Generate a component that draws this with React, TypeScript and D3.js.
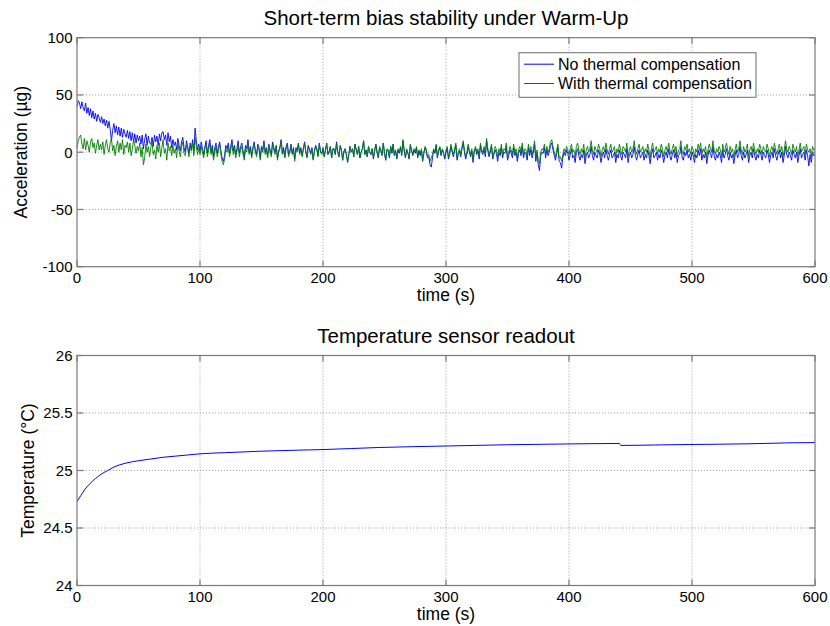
import React from "react";
import * as d3 from "d3";

// ---------- data ----------
const xTicks = [0, 100, 200, 300, 400, 500, 600];
const accTicks = [-100, -50, 0, 50, 100];
const tempTicks = [24, 24.5, 25, 25.5, 26];
const sampleStep = 1; // seconds between acceleration samples

const noCompValues = [
  40, 45, 43, 38, 44, 39, 36, 43, 34, 39, 32, 38, 30, 36, 29, 34, 27, 33, 30, 26,
  31, 25, 29, 23, 28, 21, 27, 20, 10, 19, 25, 17, 23, 15, 22, 14, 21, 13, 20, 16,
  13, 19, 12, 18, 10, 17, 9, 16, 8, 15, 10, 14, 7, 15, 3, 11, 16, 6, 14, 8,
  7, 13, 5, 15, 9, 14, 6, 16, 10, 17, 18, 11, 15, 6, 17, 9, 14, 4, 11, 6,
  9, 2, 12, 6, 1, 9, 13, 4, 0, 10, 5, -1, 8, 3, 11, 1, 21, 10, 2, 7,
  1, 9, 3, -2, 5, 10, -1, 6, 11, 0, 6, -4, 4, 8, -1, 5, 9, 1, -5, -8,
  -3, 6, 3, 8, -1, 5, 11, 1, 6, -2, 3, 10, -1, 5, 8, 1, -4, 6, 3, 11,
  0, 5, -3, 4, 9, 2, -2, 7, 4, -5, 5, 2, 10, 0, 4, -3, 7, 2, -2, 9,
  4, 0, 6, -5, 1, 5, 11, -1, 4, -4, 5, 8, -2, 1, 7, -1, 4, -6, 4, 2,
  8, -1, 4, -3, 3, 9, 1, -4, 6, 3, -1, 4, -6, 1, 6, 3, -3, 8, 1, -1,
  4, -4, 2, 8, -2, 1, 5, -5, 3, 3, -2, 9, 0, -4, 6, 2, -7, 1, 3, -2,
  -9, -2, 5, 0, 3, -4, 7, 2, -2, 5, -5, 0, 3, 10, -2, 2, -4, 5, 0, -2,
  3, -6, 1, 7, -1, -5, 4, 2, -3, 8, -1, -7, 2, 2, -5, 5, -1, 7, -3, 1,
  -6, 2, -1, 4, -3, 10, 1, -5, 2, -1, -6, 6, 1, -3, 2, -1, 4, -5, 1, -3,
  2, -8, -1, 4, 1, -5, -4, -11, -13, -5, 2, -1, 6, -5, 1, 4, -3, 2, -1, -6,
  0, 3, -6, -2, 5, 0, -4, 1, 6, -7, -2, 1, -4, 3, 8, 0, -6, -2, 5, 0,
  -4, 1, -9, 0, 3, -2, 1, -6, 6, 0, -2, 3, -4, 10, 1, -4, 0, 5, -6, -2,
  2, -1, -8, 0, -3, 4, -5, 0, -1, 5, -7, -3, 2, -1, -5, 4, -3, 0, -8, -1,
  2, -3, 5, -5, 0, -1, -7, 4, -3, 2, -5, 0, 7, -8, -1, -11, -16, -3, 0, -1,
  4, -5, 2, -3, 0, 6, 8, 2, -3, -7, -1, 4, -8, -9, -14, -5, 0, -3, 2, -1,
  -7, -2, 3, -5, -3, -9, 0, 3, -3, -7, -2, -5, 2, -10, -3, 0, -5, -2, 5, -3,
  -7, 0, -3, -5, 2, -2, -9, -3, 0, -5, 3, -3, -7, -2, 2, -5, -3, 0, -9, -2,
  -5, 2, -3, -7, 0, -2, -5, 3, -9, -3, 0, -5, -2, 5, -3, -7, -2, 2, -5, -3,
  0, -7, -2, -5, 2, -3, -10, -2, 3, -5, -3, 0, -7, -2, -5, 2, -2, -9, -3, 0,
  -5, 3, -3, -7, -2, 2, -5, 0, -9, -3, -2, 5, -5, -7, 0, -3, 2, -5, -2, -7,
  0, -3, -9, -2, -5, 2, -3, 3, -7, -2, -5, 0, -10, -3, 2, -2, -5, 5, -3, -7,
  -2, -5, 0, -3, -9, 2, -5, -2, 3, -3, -7, 0, -5, -2, -10, -3, 2, -5, -2, 5,
  -3, -7, 0, -5, -2, 2, -9, -3, 0, -5, 3, -3, -7, -2, -5, 2, -2, -7, 0, -3,
  -5, 2, -2, -9, -3, 0, -5, 3, -3, -7, -2, 2, -5, 0, -9, -3, 5, -2, -5, 0,
  -3, -7, 2, -2, -5, 0, -9, -3, 3, -5, -2, 0, -7, 2, -3, -12, -2, -9, 0, -3,
  -2,
];

const withCompValues = [
  4, 10, 13, 15, 7, 3, 12, 2, 10, 6, 0, 9, 12, 4, 8, -1, 6, 11, 2, 7,
  2, 9, -2, 6, 11, 3, 0, 8, 12, 1, 6, -3, 5, 10, 0, 8, 2, 11, -2, 6,
  4, 9, 0, 8, -3, 3, 11, 6, -1, 5, 1, 8, -4, 4, -11, -5, 7, 0, 5, -4,
  4, 9, -2, 2, -6, 6, 0, 8, -4, 4, 11, -1, 3, -7, 8, 1, 5, -3, 6, -1,
  3, -5, 8, 1, -4, 5, 9, -1, -3, 6, 3, -4, 5, 1, 8, -3, 13, 5, -2, 3,
  -2, 5, 0, -5, 3, 7, -4, 2, 8, -2, 3, -7, 0, 5, -4, 2, 7, -2, -8, -11,
  -6, 3, 0, 5, -4, 2, 8, -2, 3, -5, 0, 7, -4, 2, 5, -2, -7, 3, 0, 8,
  -2, 3, -5, 2, 7, 0, -4, 5, 2, -7, 3, 0, 8, -2, 2, -5, 5, 0, -4, 7,
  2, -2, 5, -7, 0, 3, 10, -2, 2, -5, 3, 7, -4, 0, 5, -2, 2, -8, 3, 0,
  7, -2, 3, -4, 2, 8, 0, -5, 5, 2, -2, 3, -7, 0, 5, 2, -4, 7, 0, -2,
  3, -4, 2, 7, -2, 0, 5, -5, 2, 3, -2, 8, 0, -4, 5, 2, -7, 0, 3, -2,
  -8, -2, 5, 0, 3, -4, 7, 2, -2, 5, -5, 0, 3, 10, -2, 2, -4, 5, 0, -2,
  3, -5, 2, 7, 0, -4, 5, 2, -2, 8, 0, -7, 3, 2, -4, 5, 0, 7, -2, 2,
  -5, 3, 0, 5, -2, 11, 2, -4, 3, 0, -5, 7, 2, -2, 3, 0, 5, -4, 2, -2,
  3, -7, 0, 5, 2, -4, -2, -8, -5, -2, 3, 0, 7, -4, 2, 5, -2, 3, 0, -5,
  2, 5, -4, 0, 7, 2, -2, 3, 8, -5, 0, 3, -2, 5, 10, 2, -4, 0, 7, 2,
  -2, 3, -7, 2, 5, 0, 3, -4, 8, 2, 0, 5, -2, 12, 3, -2, 2, 7, -4, 0,
  5, 2, -5, 3, 0, 7, -2, 3, 2, 8, -4, 0, 5, 2, -2, 7, 0, 3, -5, 2,
  5, 0, 8, -2, 3, 2, -4, 7, 0, 5, -2, 3, 10, -5, 2, -7, -10, 0, 3, 2,
  7, -2, 5, 0, 3, 9, 11, 5, 0, -4, 2, 7, -5, -4, -8, -2, 3, 0, 5, 2,
  -2, 3, 7, 0, 2, -4, 5, 8, 2, -2, 3, 0, 7, -5, 2, 5, 0, 3, 10, 2,
  -2, 5, 2, 0, 7, 3, -4, 2, 5, 0, 8, 2, -2, 3, 7, 0, 2, 5, -4, 3,
  0, 7, 2, -2, 5, 3, 0, 8, -4, 2, 5, 0, 3, 10, 2, -2, 3, 7, 0, 2,
  5, -2, 3, 0, 7, 2, -5, 3, 8, 0, 2, 5, -2, 3, 0, 7, 3, -4, 2, 5,
  0, 8, 2, -2, 3, 7, 0, 5, -4, 2, 3, 10, 0, -2, 5, 2, 7, 0, 3, -2,
  5, 2, -4, 3, 0, 7, 2, 8, -2, 3, 0, 5, -5, 2, 7, 3, 0, 10, 2, -2,
  3, 0, 5, 2, -4, 7, 0, 3, 8, 2, -2, 5, 0, 3, -5, 2, 7, 0, 3, 10,
  2, -2, 5, 0, 3, 7, -4, 2, 5, 0, 8, 2, -2, 3, 0, 7, 3, -2, 5, 2,
  0, 7, 3, -4, 2, 5, 0, 8, 2, -2, 3, 7, 0, 5, -4, 2, 10, 3, 0, 5,
  2, -2, 7, 3, 0, 5, -4, 2, 8, 0, 3, 5, -2, 7, 2, 0, 3, -4, 5, 2,
  3,
];

const tempTime = [0, 3, 6, 10, 15, 20, 25, 30, 35, 40, 50, 60, 70, 80, 90, 100, 120, 150, 180, 200, 245, 300, 350, 392, 441, 442, 470, 498, 545, 577, 600];
const tempValue = [24.73, 24.78, 24.83, 24.88, 24.93, 24.97, 25.0, 25.03, 25.05, 25.065, 25.085, 25.1, 25.115, 25.125, 25.135, 25.145, 25.155, 25.168, 25.177, 25.182, 25.2, 25.213, 25.224, 25.23, 25.235, 25.218, 25.222, 25.226, 25.232, 25.24, 25.243];

const seriesNames = ["No thermal compensation", "With thermal compensation"];
const seriesColors = ["#0000ff", "#008000"];

// ---------- layout ----------
const W = 830;
const H = 626;
const left = 77;
const right = 815;
const FONT = "'Liberation Sans', Arial, Helvetica, sans-serif";
const AXIS = "#7a7a7a";
const GRID = "#9a9a9a";
const TICK_LEN = 6;

type PanelProps = {
  y: d3.ScaleLinear<number, number>;
  yTicks: number[];
  fmt: (v: number) => string;
  title: string;
  ylabel: string;
  ylabelX: number;
};

const x = d3.scaleLinear().domain([0, 600]).range([left, right]);

function Panel({ y, yTicks, fmt, title, ylabel, ylabelX }: PanelProps) {
  const [bottom, top] = y.range();
  const mid = (top + bottom) / 2;
  return (
    <g>
      {xTicks.slice(1, -1).map((t) => (
        <line key={"gx" + t} x1={x(t)} x2={x(t)} y1={top} y2={bottom} stroke={GRID} strokeDasharray="1,2" strokeWidth={1} />
      ))}
      {yTicks.slice(1, -1).map((t) => (
        <line key={"gy" + t} x1={left} x2={right} y1={y(t)} y2={y(t)} stroke={GRID} strokeDasharray="1,2" strokeWidth={1} />
      ))}
      <text x={(left + right) / 2} y={top - 12.5} textAnchor="middle" fontSize={20.5} fontFamily={FONT} fill="#000">
        {title}
      </text>
      <text x={(left + right) / 2} y={bottom + 34.5} textAnchor="middle" fontSize={17.5} fontFamily={FONT} fill="#000">
        time (s)
      </text>
      <text
        transform={`translate(${ylabelX},${mid}) rotate(-90)`}
        textAnchor="middle"
        fontSize={17.5}
        fontFamily={FONT}
        fill="#000"
      >
        {ylabel}
      </text>
      {xTicks.map((t) => (
        <text key={"xl" + t} x={x(t)} y={bottom + 16.5} textAnchor="middle" fontSize={15} fontFamily={FONT} fill="#000">
          {t}
        </text>
      ))}
      {yTicks.map((t) => (
        <text key={"yl" + t} x={left - 4.5} y={y(t) + 5.3} textAnchor="end" fontSize={15} fontFamily={FONT} fill="#000">
          {fmt(t)}
        </text>
      ))}
    </g>
  );
}

function Frame({ y, yTicks }: { y: d3.ScaleLinear<number, number>; yTicks: number[] }) {
  const [bottom, top] = y.range();
  return (
    <g stroke={AXIS} strokeWidth={1.2} fill="none">
      <rect x={left} y={top} width={right - left} height={bottom - top} />
      {xTicks.map((t) => (
        <g key={"tx" + t}>
          <line x1={x(t)} x2={x(t)} y1={bottom} y2={bottom - TICK_LEN} />
          <line x1={x(t)} x2={x(t)} y1={top} y2={top + TICK_LEN} />
        </g>
      ))}
      {yTicks.map((t) => (
        <g key={"ty" + t}>
          <line x1={left} x2={left + TICK_LEN} y1={y(t)} y2={y(t)} />
          <line x1={right} x2={right - TICK_LEN} y1={y(t)} y2={y(t)} />
        </g>
      ))}
    </g>
  );
}

export default function App() {
  const yAcc = d3.scaleLinear().domain([-100, 100]).range([266.7, 37.7]);
  const yTemp = d3.scaleLinear().domain([24, 26]).range([585.5, 355.5]);

  const accLine = d3
    .line<number>()
    .x((_, i) => x(i * sampleStep))
    .y((v) => yAcc(v));

  const tempLine = d3
    .line<number>()
    .x((_, i) => x(tempTime[i]))
    .y((v) => yTemp(v))
    .curve(d3.curveMonotoneX);

  const legX = 519;
  const legY = 52.7;
  const legW = 237;
  const legH = 44.6;

  return (
    <svg
      width={W}
      height={H}
      viewBox={`0 0 ${W} ${H}`}
      style={{ position: "absolute", left: 0, top: 0, background: "#fff" }}
    >
      <rect x={0} y={0} width={W} height={H} fill="#fff" />

      <Panel
        y={yAcc}
        yTicks={accTicks}
        fmt={(v) => String(v)}
        title="Short-term bias stability under Warm-Up"
        ylabel="Acceleration (µg)"
        ylabelX={27}
      />
      <path d={accLine(noCompValues) || ""} fill="none" stroke={seriesColors[0]} strokeWidth={0.9} />
      <path d={accLine(withCompValues) || ""} fill="none" stroke={seriesColors[1]} strokeWidth={0.9} />
      <Frame y={yAcc} yTicks={accTicks} />

      <g>
        <rect x={legX} y={legY} width={legW} height={legH} fill="#fff" stroke={AXIS} strokeWidth={1.1} />
        {seriesNames.map((name, i) => (
          <g key={name}>
            <line
              x1={legX + 5}
              x2={legX + 35}
              y1={legY + 11.5 + i * 19.3}
              y2={legY + 11.5 + i * 19.3}
              stroke={seriesColors[i]}
              strokeWidth={1}
            />
            <text x={legX + 39} y={legY + 17 + i * 19.3} fontSize={16} fontFamily={FONT} fill="#000">
              {name}
            </text>
          </g>
        ))}
      </g>

      <Panel
        y={yTemp}
        yTicks={tempTicks}
        fmt={(v) => String(v)}
        title="Temperature sensor readout"
        ylabel="Temperature (°C)"
        ylabelX={34}
      />
      <path d={tempLine(tempValue) || ""} fill="none" stroke="#0000ff" strokeWidth={1} />
      <Frame y={yTemp} yTicks={tempTicks} />
    </svg>
  );
}
